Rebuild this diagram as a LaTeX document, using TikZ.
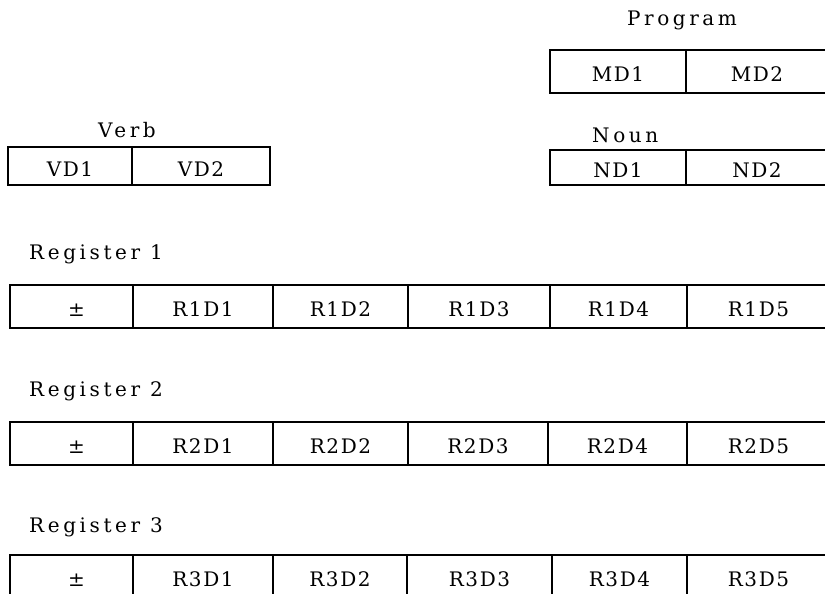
\documentclass[tikz,border=0pt]{standalone}
\usepackage{fontspec}
\setmainfont{DejaVu Serif}[LetterSpace=8]
\usetikzlibrary{positioning}

\begin{document}
\begin{tikzpicture}[x=1pt, y=1pt, font=\fontsize{20}{24}\selectfont]
  \tikzset{
    cell/.style={
      draw=black,
      line width=1.5pt,
      inner sep=0pt,
      outer sep=0pt,
      minimum height=43pt,
      text height=21pt,
      text depth=0pt,
      text centered},
    title/.style={
      inner sep=0pt,
      anchor=base west,
      font=\fontsize{20}{24}\selectfont\addfontfeature{LetterSpace=18}}}

  \useasboundingbox (0,0) rectangle (825,594);

  % Program
  \node[title, anchor=base] (prog) at (682,568) {Program};
  \node[cell, anchor=north west, minimum width=136pt] (md1) at (550,544) {MD1};
  \node[cell, minimum width=142pt] (md2) [right=0pt of md1] {MD2};

  % Noun
  \node[title] (noun) at (592,451) {Noun};
  \node[cell, anchor=north west, minimum width=136pt, minimum height=35pt] (nd1) at (550,444) {ND1};
  \node[cell, minimum width=142pt, minimum height=35pt] (nd2) [right=0pt of nd1] {ND2};

  % Verb
  \node[title, anchor=base] (verb) at (127,456) {Verb};
  \node[cell, anchor=north west, minimum width=124pt, minimum height=38pt] (vd1) at (8,447) {VD1};
  \node[cell, minimum width=138pt, minimum height=38pt] (vd2) [right=0pt of vd1] {VD2};

  % Register 1
  \node[title] (reg1) at (29,334) {Register 1};
  \node[cell, anchor=north west, minimum width=123pt] (r1s) at (10,309) {\hspace{10pt}±};
  \node[cell, minimum width=140pt] (r1d1) [right=0pt of r1s] {R1D1};
  \node[cell, minimum width=135pt] (r1d2) [right=0pt of r1d1] {R1D2};
  \node[cell, minimum width=142pt] (r1d3) [right=0pt of r1d2] {R1D3};
  \node[cell, minimum width=137pt] (r1d4) [right=0pt of r1d3] {R1D4};
  \node[cell, minimum width=143pt] (r1d5) [right=0pt of r1d4] {R1D5};

  % Register 2
  \node[title] (reg2) at (29,197) {Register 2};
  \node[cell, anchor=north west, minimum width=123pt] (r2s) at (10,172) {\hspace{10pt}±};
  \node[cell, minimum width=140pt] (r2d1) [right=0pt of r2s] {R2D1};
  \node[cell, minimum width=135pt] (r2d2) [right=0pt of r2d1] {R2D2};
  \node[cell, minimum width=140pt] (r2d3) [right=0pt of r2d2] {R2D3};
  \node[cell, minimum width=139pt] (r2d4) [right=0pt of r2d3] {R2D4};
  \node[cell, minimum width=143pt] (r2d5) [right=0pt of r2d4] {R2D5};

  % Register 3
  \node[title] (reg3) at (29,61) {Register 3};
  \node[cell, anchor=north west, minimum width=123pt] (r3s) at (10,39) {\hspace{10pt}±};
  \node[cell, minimum width=140pt] (r3d1) [right=0pt of r3s] {R3D1};
  \node[cell, minimum width=134pt] (r3d2) [right=0pt of r3d1] {R3D2};
  \node[cell, minimum width=145pt] (r3d3) [right=0pt of r3d2] {R3D3};
  \node[cell, minimum width=135pt] (r3d4) [right=0pt of r3d3] {R3D4};
  \node[cell, minimum width=143pt] (r3d5) [right=0pt of r3d4] {R3D5};

\end{tikzpicture}
\end{document}
